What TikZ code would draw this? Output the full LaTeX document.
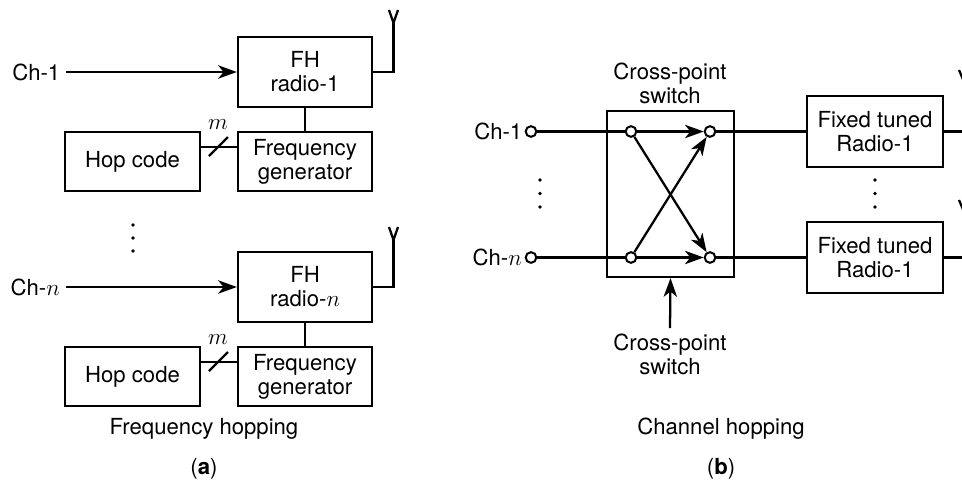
\documentclass[tikz,border=0pt]{standalone}
\usepackage{fontspec}
\setmainfont{TeX Gyre Heros}
\usetikzlibrary{arrows.meta}
\tikzset{
  blockbox/.style={draw,line width=1.7pt,inner sep=0pt,align=center,font=\fontsize{16.6}{18}\selectfont},
  wire/.style={line width=1.7pt},
  arrowwire/.style={line width=1.7pt,-{Stealth[length=14pt,width=10pt,inset=4pt]}},
  portdot/.style={circle,draw,fill=white,line width=1.5pt,minimum size=8pt,inner sep=0pt},
  dotmark/.style={circle,fill=black,minimum size=2.8pt,inner sep=0pt},
  labeltext/.style={inner sep=0.75pt,align=center,font=\fontsize{16.6}{18}\selectfont},
}
\begin{document}
\begin{tikzpicture}[x=0.75pt,y=0.75pt,yscale=-1,xscale=1]
\useasboundingbox (0,0) rectangle (962,483);

%Shape: Rectangle
\node [blockbox,minimum width=100.5pt,minimum height=52.5pt] (radioA) at (305,72) {FH\\radio-1};
\node [blockbox,minimum width=100.5pt,minimum height=44pt] (genA) at (305,161.5) {Frequency\\generator};
\node [blockbox,minimum width=101pt,minimum height=44pt] (hopA) at (132.5,161.5) {Hop code};
\node [blockbox,minimum width=100.5pt,minimum height=52.5pt] (radioB) at (305,287) {FH\\radio-$n$};
\node [blockbox,minimum width=100.5pt,minimum height=44pt] (genB) at (305,376.5) {Frequency\\generator};
\node [blockbox,minimum width=101pt,minimum height=44pt] (hopB) at (132.5,376.5) {Hop code};
\node [draw,line width=1.7pt,minimum width=95pt,minimum height=124.5pt,inner sep=0pt] (switch) at (670.5,194) {};
\node [blockbox,minimum width=102pt,minimum height=53pt] (fixedA) at (875,131.5) {Fixed tuned\\Radio-1};
\node [blockbox,minimum width=102pt,minimum height=53pt] (fixedB) at (875,257.5) {Fixed tuned\\Radio-1};

% Text Node
\node [labeltext,anchor=east] (chA) at (61.5,72) {Ch-1};
\node [labeltext,anchor=east] (chB) at (61,287) {Ch-$n$};
\node [labeltext,anchor=east] (chC) at (523.5,131.5) {Ch-1};
\node [labeltext,anchor=east] (chD) at (523,257.5) {Ch-$n$};
\node [labeltext] (busA) at (218,125) {$m$};
\node [labeltext] (busB) at (218,340) {$m$};
\node [labeltext] (switchtop) at (670,83.5) {Cross-point\\switch};
\node [labeltext] (switchbot) at (670,354) {Cross-point\\switch};
\node [labeltext] (captionA) at (204,429) {Frequency hopping};
\node [labeltext] (captionB) at (721,429) {Channel hopping};
\node [labeltext] (subA) at (204,469) {(\textbf{a})};
\node [labeltext] (subB) at (721,469) {(\textbf{b})};

%Shape: Circle
\node [portdot] (inA) at (531,131.5) {};
\node [portdot] (inB) at (531,257.5) {};
\node [portdot] (crossAA) at (631,131.5) {};
\node [portdot] (crossAB) at (710,131.5) {};
\node [portdot] (crossBA) at (631,257.5) {};
\node [portdot] (crossBB) at (710,257.5) {};

% dots
\foreach \y [count=\i] in {225,238,251} {
  \node [dotmark] (dotA\i) at (133,\y) {};
}
\foreach \y [count=\i] in {180,193.5,207} {
  \node [dotmark] (dotB\i) at (540,\y) {};
  \node [dotmark] (dotC\i) at (875,\y) {};
}

% antenna points
\coordinate (antA) at (393.5,72);
\coordinate (antAtop) at (393.5,23);
\coordinate (antB) at (393.5,287);
\coordinate (antBtop) at (393.5,240);
\coordinate (outA) at (965,131.5);
\coordinate (outAtop) at (965,84);
\coordinate (outB) at (965,257.5);
\coordinate (outBtop) at (965,214);
\coordinate (slashAa) at (209,156);
\coordinate (slashAb) at (228,137);
\coordinate (slashBa) at (209,371);
\coordinate (slashBb) at (228,352);
\coordinate (switchfoot) at (670,328);

%Straight Lines
\draw [arrowwire] (66,72) -- (radioA.west);
\draw [arrowwire] (66,287) -- (radioB.west);
\draw [wire] (radioA) -- (genA);
\draw [wire] (radioB) -- (genB);
\draw [wire] (hopA.east |- 0,147) -- (genA.west |- 0,147);
\draw [wire] (hopB.east |- 0,362) -- (genB.west |- 0,362);
\draw [wire] (slashAa) -- (slashAb);
\draw [wire] (slashBa) -- (slashBb);
\draw [wire] (radioA.east) -- (antA) -- (antAtop);
\draw [wire] (radioB.east) -- (antB) -- (antBtop);
\draw [wire] (inA) -- (crossAA);
\draw [wire] (inB) -- (crossBA);
\draw [arrowwire] (crossAA) -- (crossAB);
\draw [arrowwire] (crossBA) -- (crossBB);
\draw [arrowwire] (crossAA) -- (crossBB);
\draw [arrowwire] (crossBA) -- (crossAB);
\draw [wire] (crossAB) -- (fixedA);
\draw [wire] (crossBB) -- (fixedB);
\draw [wire] (fixedA.east) -- (outA) -- (outAtop);
\draw [wire] (fixedB.east) -- (outB) -- (outBtop);
\draw [arrowwire] (switchfoot) -- (switch.south);

%Antenna heads
\draw [wire] (389,10) -- (antAtop) -- (398,10);
\draw [wire] (389,227) -- (antBtop) -- (398,227);
\draw [wire] (959,70) -- (outAtop);
\draw [wire] (959,200) -- (outBtop);

\end{tikzpicture}
\end{document}
